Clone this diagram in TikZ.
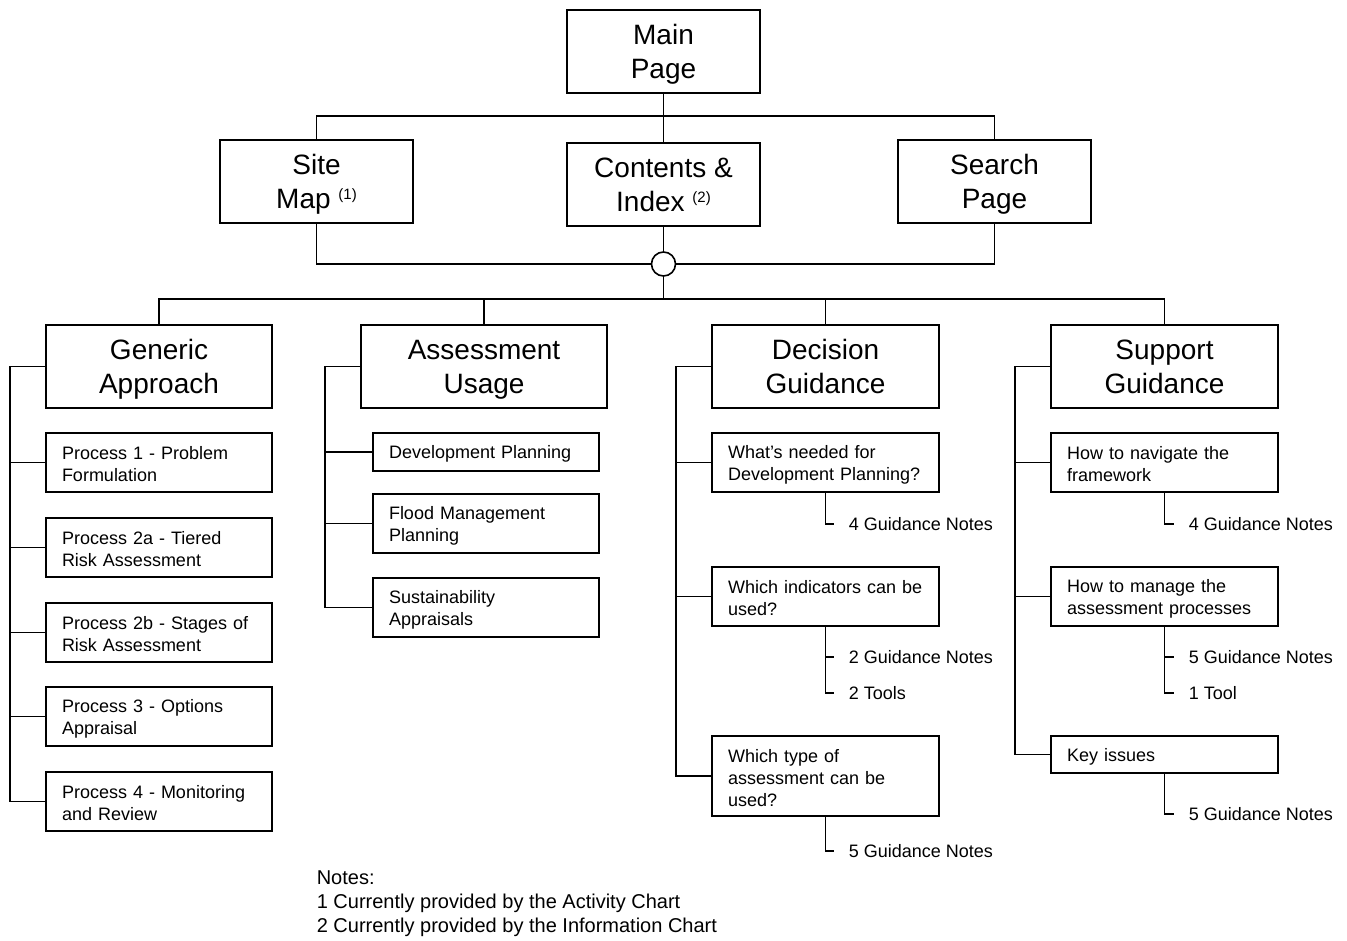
\documentclass[tikz,border=0pt]{standalone}
\usepackage{fontspec}
\setmainfont{Liberation Sans}
\newcommand\fnmark[1]{\raisebox{9pt}{\fontsize{15}{15}\selectfont #1}}
\begin{document}
\begin{tikzpicture}[x=1pt,y=-1pt,line width=1.6pt,
  bigbox/.style={draw, rectangle, inner sep=0pt, align=center, minimum height=83pt,
    text depth=-2pt, font=\fontsize{28}{34}\selectfont},
  subbox/.style={draw, rectangle, inner xsep=16pt, inner ysep=0pt, minimum height=59pt,
    align=left, text height=17pt, font=\fontsize{18}{22}\selectfont},
  gsub/.style={subbox, text width=194pt},
  dsub/.style={subbox, text width=195pt},
  leaf/.style={anchor=west, inner sep=0pt, font=\fontsize{18}{22}\selectfont},
  tick/.style={shorten >=14pt},
  hubnode/.style={draw, circle, minimum size=24pt, inner sep=0pt, fill=white}]
\useasboundingbox (0,0) rectangle (1347,940);

% top level
\node[bigbox, minimum width=193pt] (main) at (663.5,51.5) {Main\\Page};
\node[bigbox, minimum width=193pt] (site) at (316.5,181.5) {Site\\Map \fnmark{(1)}};
\node[bigbox, minimum width=193pt] (contents) at (663.5,184.5) {Contents \&\\Index \fnmark{(2)}};
\node[bigbox, minimum width=193pt] (search) at (994.5,181.5) {Search\\Page};
\node[hubnode] (hub) at (663.5,264) {};

\draw (main.south) -- (contents.north);
\draw (site.north) -- ++(0,-23) -| (search.north);
\draw (site.south) |- (hub.west);
\draw (search.south) |- (hub.east);
\draw (contents.south) -- (hub.north);

% section headings
\node[bigbox, minimum width=226pt] (generic) at (159,366.5) {Generic\\Approach};
\node[bigbox, minimum width=246pt] (assess) at (484,366.5) {Assessment\\Usage};
\node[bigbox, minimum width=227pt] (decision) at (825.5,366.5) {Decision\\Guidance};
\node[bigbox, minimum width=227pt] (support) at (1164.5,366.5) {Support\\Guidance};

\coordinate (bus) at (663.5,299);
\draw (hub.south) -- (bus);
\draw (generic.north) |- (bus) -| (support.north);
\draw (assess.north) -- (assess.north |- bus);
\draw (decision.north) -- (decision.north |- bus);

% generic approach
\node[gsub] (p1) at (159,462.5) {Process 1 - Problem\\Formulation};
\node[gsub] (p2a) at (159,547.5) {Process 2a - Tiered\\Risk Assessment};
\node[gsub] (p2b) at (159,632.5) {Process 2b - Stages of\\Risk Assessment};
\node[gsub] (p3) at (159,716.5) {Process 3 - Options\\Appraisal};
\node[gsub] (p4) at (159,801.5) {Process 4 - Monitoring\\and Review};
\coordinate (gsp) at (10,0);
\draw (generic.west) -- (generic.west -| gsp) |- (p4.west);
\foreach \n in {p1,p2a,p2b,p3} \draw (\n.west) -- (\n.west -| gsp);

% assessment usage
\node[gsub, minimum height=38pt] (a1) at (486,452) {Development Planning};
\node[gsub] (a2) at (486,523.5) {Flood Management\\Planning};
\node[gsub] (a3) at (486,607.5) {Sustainability\\Appraisals};
\coordinate (asp) at (325,0);
\draw (assess.west) -- (assess.west -| asp) |- (a3.west);
\foreach \n in {a1,a2} \draw (\n.west) -- (\n.west -| asp);

% decision guidance
\node[dsub] (q1) at (825.5,462.5) {What’s needed for\\Development Planning?};
\node[dsub] (q2) at (825.5,596.5) {Which indicators can be\\used?};
\node[dsub, minimum height=80pt] (q3) at (825.5,776) {Which type of\\assessment can be\\used?};
\coordinate (dsp) at (676,0);
\draw (decision.west) -- (decision.west -| dsp) |- (q3.west);
\foreach \n in {q1,q2} \draw (\n.west) -- (\n.west -| dsp);

\node[leaf] (g1) at (848,524) {4 Guidance Notes};
\node[leaf] (g2a) at (848,657) {2 Guidance Notes};
\node[leaf] (g2b) at (848,693) {2 Tools};
\node[leaf] (g3) at (848,851) {5 Guidance Notes};
\draw[tick] (q1.south) |- (g1.west);
\draw[tick] (q2.south) |- (g2a.west);
\draw[tick] (q2.south) |- (g2b.west);
\draw[tick] (q3.south) |- (g3.west);

% support guidance
\node[dsub] (s1) at (1164.5,462.5) {How to navigate the\\framework};
\node[dsub] (s2) at (1164.5,596.5) {How to manage the\\assessment processes};
\node[dsub, minimum height=37pt] (s3) at (1164.5,754.5) {Key issues};
\coordinate (ssp) at (1015,0);
\draw (support.west) -- (support.west -| ssp) |- (s3.west);
\foreach \n in {s1,s2} \draw (\n.west) -- (\n.west -| ssp);

\node[leaf] (h1) at (1188,524) {4 Guidance Notes};
\node[leaf] (h2a) at (1188,657) {5 Guidance Notes};
\node[leaf] (h2b) at (1188,693) {1 Tool};
\node[leaf] (h3) at (1188,814) {5 Guidance Notes};
\draw[tick] (s1.south) |- (h1.west);
\draw[tick] (s2.south) |- (h2a.west);
\draw[tick] (s2.south) |- (h2b.west);
\draw[tick] (s3.south) |- (h3.west);

% footnotes
\node[anchor=north west, inner sep=0pt, align=left, font=\fontsize{20}{24}\selectfont] (notes) at (316,870)
  {Notes:\\1 Currently provided by the Activity Chart\\2 Currently provided by the Information Chart};
\end{tikzpicture}
\end{document}
